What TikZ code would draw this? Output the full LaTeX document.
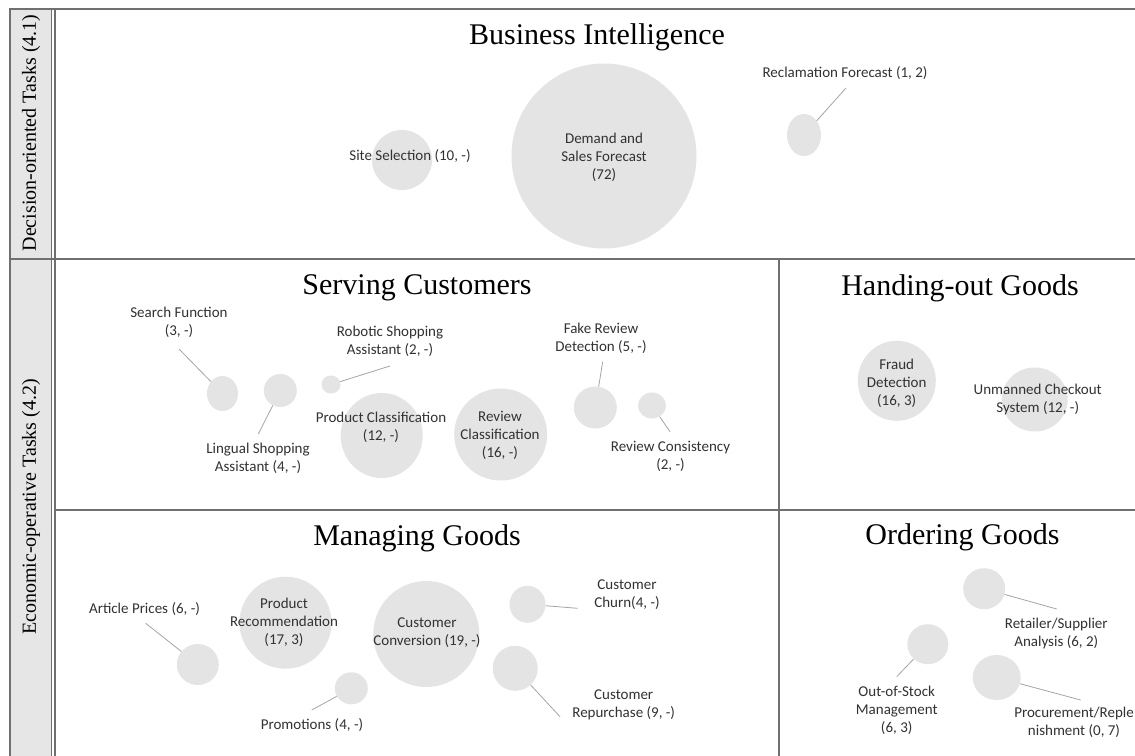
\documentclass[tikz,border=0pt]{standalone}
\usepackage{fontspec}
\setmainfont{Liberation Serif}
\newfontfamily\labfont{Carlito}
\usetikzlibrary{shapes.geometric}
\definecolor{bubfill}{RGB}{228,228,228}
\definecolor{framecol}{RGB}{112,112,112}
\definecolor{sidefill}{RGB}{230,230,230}
\definecolor{leadcol}{RGB}{165,165,165}
\definecolor{labtext}{RGB}{50,50,50}
\tikzset{
  bubble/.style={ellipse, fill=bubfill, draw=none, inner sep=0pt},
  lab/.style={font=\labfont\fontsize{15}{18}\selectfont, text=labtext, align=center, inner sep=0pt},
  ttl/.style={font=\fontsize{30}{36}\selectfont, inner sep=0pt},
  sidettl/.style={font=\fontsize{20}{24}\selectfont, rotate=90, inner sep=0pt},
  frameline/.style={draw=framecol, line width=2.3pt},
  thinframe/.style={draw=framecol, line width=1.5pt},
  leader/.style={draw=leadcol, line width=0.8pt},
}
\begin{document}
\begin{tikzpicture}[x=1pt,y=-1pt]
\useasboundingbox (0,0) rectangle (1135,755);
\clip (0,0) rectangle (1135,755);
\fill[white] (0,0) rectangle (1135,755);
% sidebar
\fill[sidefill] (10,9) rectangle (52,760);
\draw[thinframe] (10,8) -- (10,760);
\draw[thinframe] (51.5,8) -- (51.5,760);
\draw[thinframe] (55,8) -- (55,760);
\draw[frameline] (9,9) -- (1140,9);
\draw[frameline] (9,259) -- (1140,259);
\draw[frameline] (55,510) -- (1140,510);
\draw[frameline] (779,259) -- (779,760);
\node[sidettl] (side1) at (31,133) {Decision-oriented Tasks (4.1)};
\node[sidettl] (side2) at (31,507) {Economic-operative Tasks (4.2)};

% ---------- Business Intelligence
\node[ttl] (tBI) at (597,37) {Business Intelligence};
\node[bubble, minimum width=60pt, minimum height=60pt] (ss) at (402,160) {};
\node[lab] (ssL) at (410,156) {Site Selection (10, -)};
\node[bubble, minimum width=185pt, minimum height=185pt] (ds) at (604,156) {};
\node[lab] (dsL) at (604,157) {Demand and\\Sales Forecast\\(72)};
\node[bubble, minimum width=34pt, minimum height=42pt] (rf) at (804,135) {};
\node[lab] (rfL) at (845,73) {Reclamation Forecast (1, 2)};
\coordinate (rfE) at (846,88);
\draw[leader] (rf) -- (rfE);

% ---------- Serving Customers
\node[ttl] (tSC) at (417,288) {Serving Customers};
\node[bubble, minimum width=31pt, minimum height=35pt] (sf) at (222.5,393.5) {};
\node[lab] (sfL) at (179,322) {Search Function\\(3, -)};
\coordinate (sfE) at (179,349);
\draw[leader] (sf) -- (sfE);
\node[bubble, minimum width=33pt, minimum height=33pt] (ls) at (280.3,390.5) {};
\node[lab] (lsL) at (258,458) {Lingual Shopping\\Assistant (4, -)};
\coordinate (lsE) at (258.3,434);
\draw[leader] (ls) -- (lsE);
\node[bubble, minimum width=19pt, minimum height=18pt] (rs) at (331,384.5) {};
\node[lab] (rsL) at (390,341) {Robotic Shopping\\Assistant (2, -)};
\coordinate (rsE) at (390,366);
\draw[leader] (rs) -- (rsE);
\node[bubble, minimum width=82pt, minimum height=85pt] (pc) at (381.7,435.5) {};
\node[lab] (pcL) at (381,427.5) {Product Classification\\(12, -)};
\node[bubble, minimum width=93pt, minimum height=92pt] (rc) at (500.7,434.5) {};
\node[lab] (rcL) at (500,435.5) {Review\\Classification\\(16, -)};
\node[bubble, minimum width=43pt, minimum height=42pt] (fr) at (595.3,407.5) {};
\node[lab] (frL) at (601,338) {Fake Review\\Detection (5, -)};
\coordinate (frE) at (602.7,361.7);
\draw[leader] (fr) -- (frE);
\node[bubble, minimum width=28pt, minimum height=26pt] (rcn) at (652,405.5) {};
\node[lab] (rcnL) at (670.5,456) {Review Consistency\\(2, -)};
\coordinate (rcnE) at (670,431.7);
\draw[leader] (rcn) -- (rcnE);

% ---------- Handing-out Goods
\node[ttl] (tHO) at (960,288) {Handing-out Goods};
\node[bubble, minimum width=78pt, minimum height=80pt] (fd) at (896.8,380.8) {};
\node[lab] (fdL) at (896.7,383) {Fraud\\Detection\\(16, 3)};
\node[bubble, minimum width=66pt, minimum height=64pt] (uc) at (1034.7,399.5) {};
\node[lab] (ucL) at (1037.7,399) {Unmanned Checkout\\System (12, -)};

% ---------- Managing Goods
\node[ttl] (tMG) at (417,538) {Managing Goods};
\node[bubble, minimum width=42pt, minimum height=41pt] (ap) at (197.8,664.5) {};
\node[lab] (apL) at (144.5,609.3) {Article Prices (6, -)};
\coordinate (apE) at (145.7,623.3);
\draw[leader] (ap) -- (apE);
\node[bubble, minimum width=92pt, minimum height=92pt] (pr) at (285.5,622.7) {};
\node[lab] (prL) at (284,622.5) {Product\\Recommendation\\(17, 3)};
\node[bubble, minimum width=106pt, minimum height=106pt] (cc) at (426.3,634) {};
\node[lab] (ccL) at (427,632.5) {Customer\\Conversion (19, -)};
\node[bubble, minimum width=33pt, minimum height=32pt] (pm) at (351.3,688.3) {};
\node[lab] (pmL) at (312,725) {Promotions (4, -)};
\coordinate (pmE) at (311.7,710);
\draw[leader] (pm) -- (pmE);
\node[bubble, minimum width=36pt, minimum height=37pt] (ch) at (527.5,604.3) {};
\node[lab] (chL) at (627,595) {Customer\\Churn(4, -)};
\coordinate (chE) at (577.7,608.3);
\draw[leader] (ch) -- (chE);
\node[bubble, minimum width=45pt, minimum height=45pt] (cr) at (515.2,668.3) {};
\node[lab] (crL) at (623.7,705) {Customer\\Repurchase (9, -)};
\coordinate (crE) at (560,716.7);
\draw[leader] (cr) -- (crE);

% ---------- Ordering Goods
\node[ttl] (tOG) at (962.5,537) {Ordering Goods};
\node[bubble, minimum width=42pt, minimum height=41pt] (rsa) at (984.2,588.7) {};
\node[lab] (rsaL) at (1056.3,633) {Retailer/Supplier\\Analysis (6, 2)};
\coordinate (rsaE) at (1056.7,609);
\draw[leader] (rsa) -- (rsaE);
\node[bubble, minimum width=41pt, minimum height=40pt] (os) at (927.8,644.2) {};
\node[lab] (osL) at (896.7,710.7) {Out-of-Stock\\Management\\(6, 3)};
\coordinate (osE) at (896.7,676.7);
\draw[leader] (os) -- (osE);
\node[bubble, minimum width=48pt, minimum height=45pt] (pcr) at (996.7,677.5) {};
\node[lab] (pcrL) at (1074,722.5) {Procurement/Reple\\nishment (0, 7)};
\coordinate (pcrE) at (1080.7,700);
\draw[leader] (pcr) -- (pcrE);
\end{tikzpicture}
\end{document}
